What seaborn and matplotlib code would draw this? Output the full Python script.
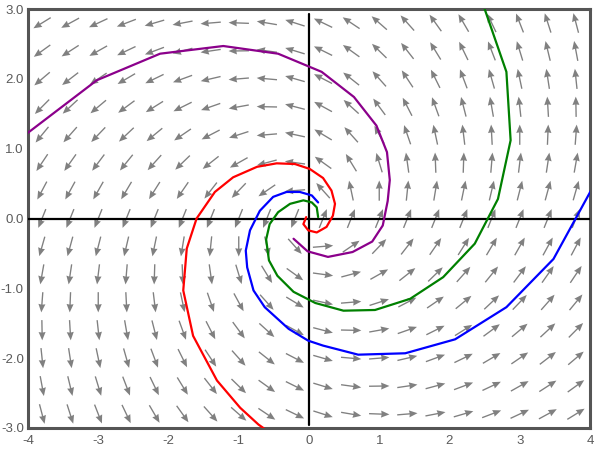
import matplotlib
matplotlib.use("Agg")
import matplotlib.pyplot as plt
import seaborn as sns
import numpy as np
import pandas as pd

# linear system dx/dt = A @ [x, y]  (spiral source)
system_a = [[0.4, -1.0],
            [1.0, 0.4]]

# grid of the direction field
grid_x = [-3.8, -3.4, -3.0, -2.6, -2.2, -1.8, -1.4, -1.0, -0.6, -0.2,
          0.2, 0.6, 1.0, 1.4, 1.8, 2.2, 2.6, 3.0, 3.4, 3.8]
grid_y = [-2.8, -2.4, -2.0, -1.6, -1.2, -0.8, -0.4, 0.0,
          0.4, 0.8, 1.2, 1.6, 2.0, 2.4, 2.8]
arrow_len = 0.29

# trajectories
purple_x = [-0.22, -0.02, 0.27, 0.62, 0.9, 1.05, 1.12, 1.15, 1.11, 0.96,
            0.64, 0.18, -0.44, -1.22, -2.12, -3.02, -4.05]
purple_y = [-0.29, -0.47, -0.55, -0.48, -0.33, -0.1, 0.25, 0.55, 0.95, 1.33,
            1.74, 2.10, 2.36, 2.47, 2.36, 1.98, 1.19]

red_x = [-0.04, -0.08, -0.01, 0.11, 0.25, 0.34, 0.37, 0.32, 0.2, 0.01,
         -0.2, -0.46, -0.74, -1.08, -1.34, -1.6, -1.74, -1.79, -1.65,
         -1.31, -0.98, -0.72, -0.58]
red_y = [0.02, -0.08, -0.17, -0.2, -0.12, 0.04, 0.21, 0.40, 0.58, 0.71,
         0.78, 0.79, 0.74, 0.59, 0.38, 0.0, -0.43, -1.03, -1.68,
         -2.32, -2.71, -2.95, -3.05]

green_x = [0.13, 0.11, 0.04, -0.08, -0.27, -0.44, -0.56, -0.61, -0.57,
           -0.45, -0.22, 0.09, 0.49, 0.94, 1.44, 1.91, 2.36, 2.69, 2.87,
           2.81, 2.49]
green_y = [0.02, 0.16, 0.23, 0.26, 0.21, 0.09, -0.08, -0.3, -0.6,
           -0.82, -1.05, -1.21, -1.32, -1.31, -1.15, -0.84, -0.36, 0.28, 1.12,
           2.10, 3.03]

blue_x = [0.13, 0.04, -0.13, -0.32, -0.51, -0.7, -0.84, -0.9, -0.88, -0.79,
          -0.63, -0.29, -0.01, 0.2, 0.7, 1.37, 2.08, 2.81, 3.48, 4.03]
blue_y = [0.23, 0.33, 0.38, 0.38, 0.31, 0.11, -0.17, -0.46, -0.70, -1.03,
          -1.27, -1.58, -1.75, -1.82, -1.95, -1.93, -1.73, -1.27, -0.58, 0.43]

x_ticks = [-4, -3, -2, -1, 0, 1, 2, 3, 4]
x_labels = ["-4", "-3", "-2", "-1", "0", "1", "2", "3", "4"]
y_ticks = [3, 2, 1, 0, -1, -2, -3]
y_labels = ["3.0", "2.0", "1.0", "0.0", "-1.0", "-2.0", "-3.0"]

sns.set_theme(style="white")
plt.rcParams["font.family"] = ["Liberation Sans", "DejaVu Sans"]

fig = plt.figure(figsize=(6, 4.5), dpi=100)
ax = fig.add_axes([28 / 600, 1 - 428 / 450, 562 / 600, 419 / 450])

# direction field
A = np.array(system_a)
X, Y = np.meshgrid(grid_x, grid_y)
U = A[0, 0] * X + A[0, 1] * Y
V = A[1, 0] * X + A[1, 1] * Y
mag = np.hypot(U, V)
ax.quiver(X, Y, U / mag * arrow_len, V / mag * arrow_len,
          angles="xy", scale_units="xy", scale=1, pivot="mid",
          color="#808080", width=0.0024, headwidth=5.2, headlength=6.2,
          headaxislength=5.8, zorder=2)

# coordinate axes
ax.axhline(0, color="black", lw=1.6, zorder=3)
ax.axvline(0, ymin=0.008, ymax=0.988, color="black", lw=1.6, zorder=3)

# trajectories
curves = [(purple_x, purple_y, "#8b008b"),
          (red_x, red_y, "#ff0000"),
          (green_x, green_y, "#008000"),
          (blue_x, blue_y, "#0000ff")]
for cx, cy, col in curves:
    df = pd.DataFrame({"x": cx, "y": cy})
    sns.lineplot(data=df, x="x", y="y", sort=False, estimator=None,
                 color=col, lw=1.6, ax=ax, zorder=4)

ax.set_xlim(-4, 4)
ax.set_ylim(-3, 3)
ax.set_xticks(x_ticks)
ax.set_xticklabels(x_labels)
ax.set_yticks(y_ticks)
ax.set_yticklabels(y_labels)
ax.set_xlabel("")
ax.set_ylabel("")
ax.tick_params(length=0, labelsize=9.5, colors="#5a5a5a")
ax.tick_params(axis="x", pad=5)
ax.tick_params(axis="y", pad=3)
for sp in ax.spines.values():
    sp.set_color("#555555")
    sp.set_linewidth(2.2)
    sp.set_visible(True)

fig.savefig("out.png", dpi=100)
